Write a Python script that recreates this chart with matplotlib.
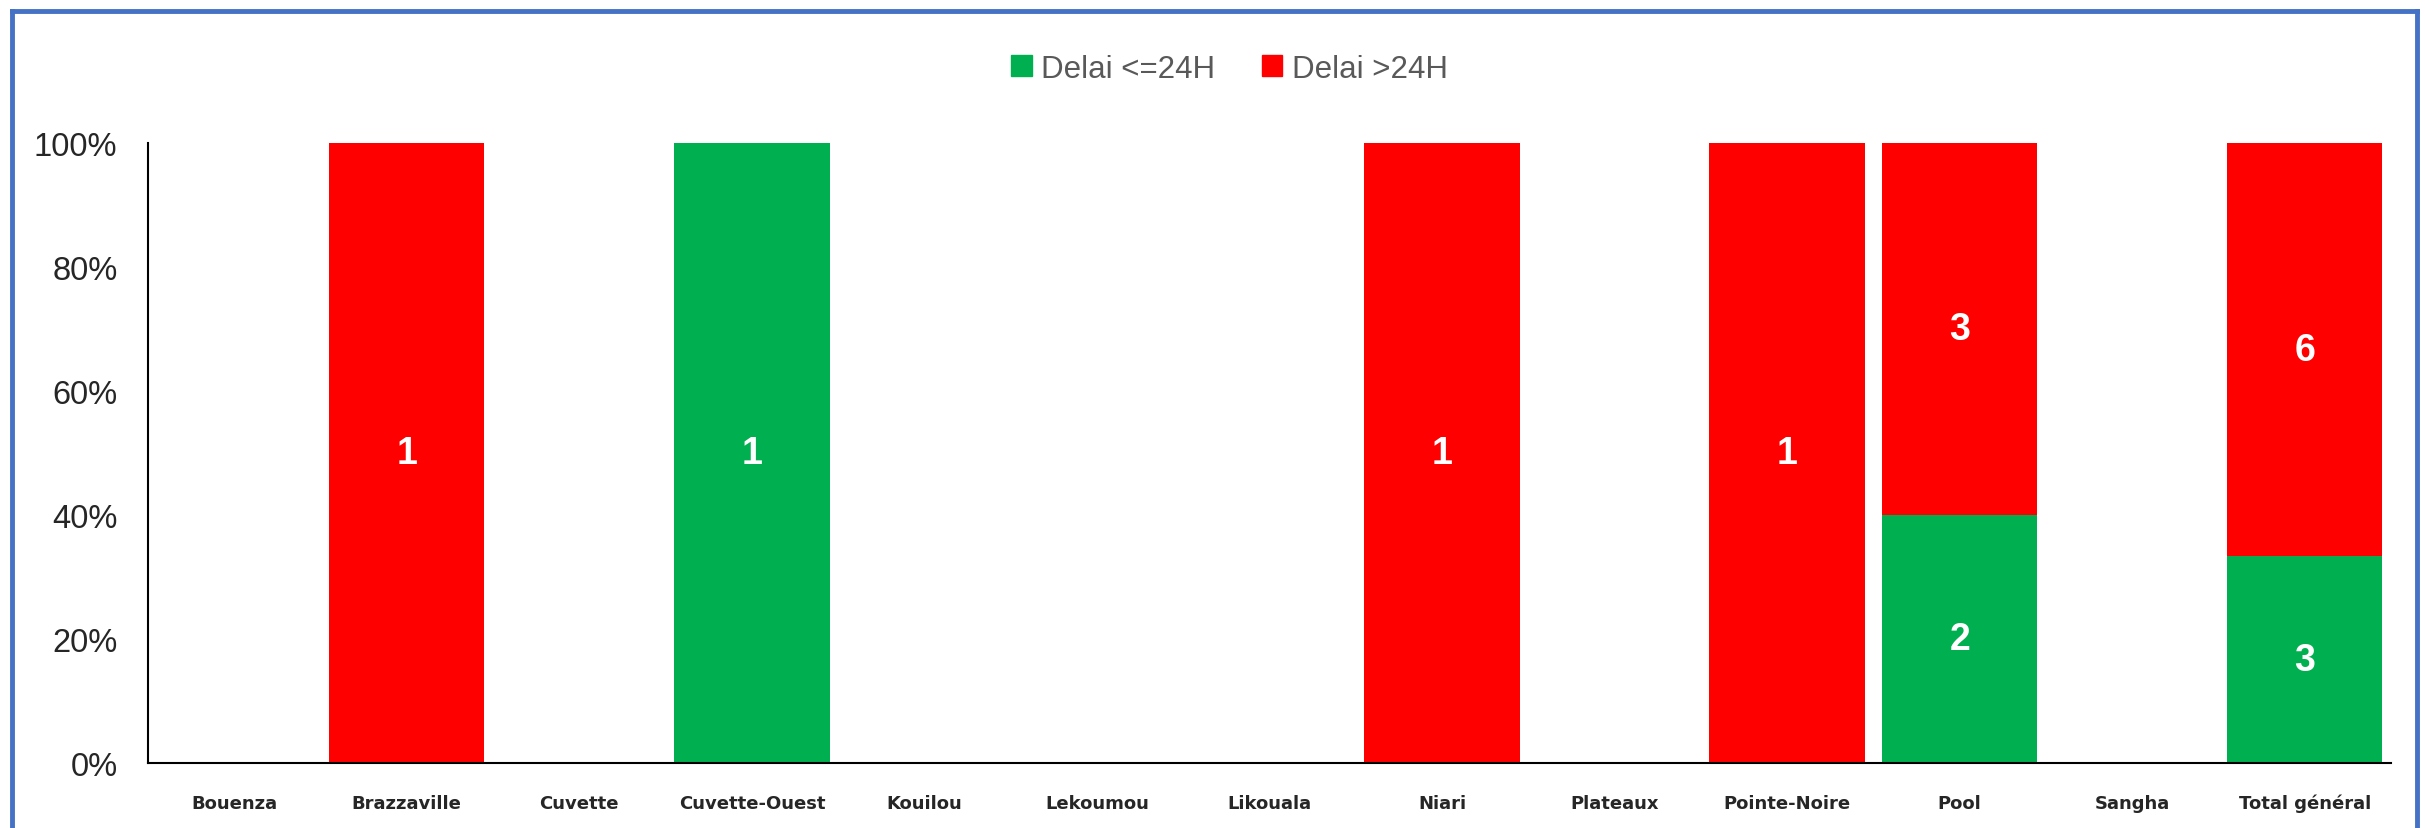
import matplotlib.pyplot as plt
import numpy as np
from matplotlib.lines import Line2D
from matplotlib.patches import Patch

# data
regions = ["Bouenza", "Brazzaville", "Cuvette", "Cuvette-Ouest", "Kouilou", "Lekoumou",
           "Likouala", "Niari", "Plateaux", "Pointe-Noire", "Pool", "Sangha", "Total général"]
delai_le24 = [0, 0, 0, 1, 0, 0, 0, 0, 0, 0, 2, 0, 3]
delai_gt24 = [0, 1, 0, 0, 0, 0, 0, 1, 0, 1, 3, 0, 6]
series_names = ["Delai <=24H", "Delai >24H"]
yticks = [0, 0.2, 0.4, 0.6, 0.8, 1.0]
ytick_labels = ["0%", "20%", "40%", "60%", "80%", "100%"]

green = "#00B050"
red = "#FF0000"

le = np.array(delai_le24, dtype=float)
gt = np.array(delai_gt24, dtype=float)
tot = le + gt
tot_safe = np.where(tot == 0, 1, tot)
p_le = le / tot_safe
p_gt = gt / tot_safe

fig = plt.figure(figsize=(24.25, 8.29), dpi=100)
ax = fig.add_axes([148 / 2425, 1 - 764 / 829, (2391 - 148) / 2425, (764 - 144) / 829])

x = np.arange(len(regions))
ax.bar(x, p_le, width=0.9, color=green, label=series_names[0])
ax.bar(x, p_gt, width=0.9, bottom=p_le, color=red, label=series_names[1])

for i in range(len(regions)):
    if le[i] > 0:
        ax.text(x[i], p_le[i] / 2, f"{int(le[i])}", ha="center", va="center",
                color="white", fontsize=27, fontweight="bold", family="Liberation Sans")
    if gt[i] > 0:
        ax.text(x[i], p_le[i] + p_gt[i] / 2, f"{int(gt[i])}", ha="center", va="center",
                color="white", fontsize=27, fontweight="bold", family="Liberation Sans")

ax.set_xlim(-0.5, len(regions) - 0.5)
ax.set_ylim(0, 1)
ax.set_yticks(yticks)
ax.set_yticklabels(ytick_labels, fontsize=23.5, family="Liberation Sans", color="#262626")
ax.set_xticks(x)
ax.set_xticklabels(regions, fontsize=13, fontweight="bold",
                   family="DejaVu Sans", color="#262626")
ax.tick_params(axis="y", length=0, pad=22)
ax.tick_params(axis="x", length=0, pad=22)
for s in ["top", "right"]:
    ax.spines[s].set_visible(False)
ax.spines["left"].set_linewidth(1.5)
ax.spines["bottom"].set_linewidth(1.5)

handles = [Patch(color=green), Patch(color=red)]
fig.legend(handles, series_names, loc="center", bbox_to_anchor=(0.507, 0.916), ncol=2,
           frameon=False, handlelength=0.65, handleheight=0.65, handletextpad=0.3,
           columnspacing=1.5, prop={"family": "Liberation Sans", "size": 22.5},
           labelcolor="#595959")

# blue frame around the chart
bl = "#4472C4"
fig.add_artist(Line2D([12 / 2425, 12 / 2425], [0, 1 - 12 / 829], color=bl, lw=3.5, transform=fig.transFigure))
fig.add_artist(Line2D([12 / 2425, 2417 / 2425], [1 - 12 / 829, 1 - 12 / 829], color=bl, lw=3.5, transform=fig.transFigure))
fig.add_artist(Line2D([2417 / 2425, 2417 / 2425], [0, 1 - 12 / 829], color=bl, lw=3.5, transform=fig.transFigure))

fig.savefig("out.png", dpi=100)
